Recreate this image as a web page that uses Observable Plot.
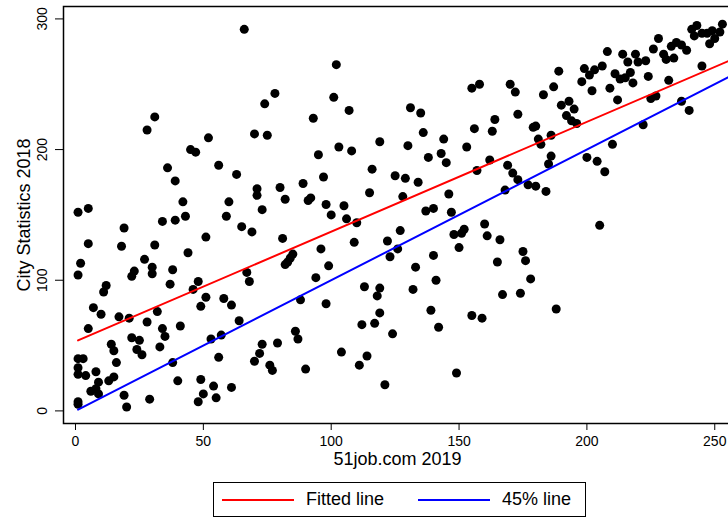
<!DOCTYPE html>
<html>
<head>
<meta charset="utf-8">
<script src="https://cdn.jsdelivr.net/npm/d3@7"></script>
<script src="https://cdn.jsdelivr.net/npm/@observablehq/plot@0.6"></script>
<style>
  html, body { margin: 0; padding: 0; background: #fff; }
  body { font-family: "Liberation Sans", Arial, sans-serif; }
  #wrap { position: relative; width: 728px; height: 519px; overflow: hidden; background: #fff; }
  #chart svg { max-width: none !important; display: block; }
  #legend { position: absolute; left: 213px; top: 482px; width: 373px; height: 35px;
            border: 1px solid #000; box-sizing: border-box; background: #fff; }
  #legend .sw { position: absolute; top: 16px; height: 2px; width: 72px; }
  #legend .lb { position: absolute; top: 5px; font-size: 18px; line-height: 22px; color: #000; white-space: nowrap; }
</style>
</head>
<body>
<div id="wrap">
  <div id="chart"></div>
  <div id="legend"></div>
</div>
<script>
// 51job.com 2019 rank (x) and City Statistics 2018 rank (y)
const job2019 = [
  31,28,52,45,47,56,36,39,42,60,5,1,43,59,
  66,102,78,74,101,107,93,70,75,103,108,119,95,116,125,63,97,89,80,71,71,82,92,91,115,98,105,73,100,
  189,155,158,170,172,187,183,190,131,135,173,164,156,163,136,179,180,144,181,182,186,130,153,143,138,145,186,185,162,169,157,171,173,129,134,177,180,184,168,128,146,137,140,147,
  193,195,192,194,196,208,199,203,206,201,198,202,209,212,214,216,219,220,223,226,228,211,213,215,217,218,224,230,231,234,233,235,237,239,241,243,242,245,247,249,248,250,252,253,245,232,225,227,237,240,222,210,200,204,207,
  34,39,19,5,18,31,51,44,2,1,27,30,30,23,22,38,37,48,46,12,11,51,49,58,61,7,10,17,21,32,28,5,34,35,41,22,25,14,15,24,26,33,16,1,3,1,1,4,8,38,53,57,56,9,13,15,6,8,9,40,49,54,61,50,55,48,19,29,20,1,1,
  106,110,65,69,81,109,122,123,96,85,84,83,82,99,67,68,94,113,119,118,88,98,119,117,112,64,86,87,124,73,79,72,70,76,77,90,104,114,111,121,
  127,126,148,151,152,150,160,161,166,140,133,141,132,165,175,176,178,174,167,188,139,142,155,159,149,
  205
];
const city2018 = [
  225,215,209,200,198,188,186,176,160,160,155,152,149,149,
  292,265,243,235,240,230,224,212,211,202,199,206,196,185,180,181,179,174,171,170,165,162,163,161,167,158,157,154,150,
  260,247,250,250,244,248,242,234,232,228,227,223,216,214,213,217,218,208,208,204,211,203,202,197,194,190,195,189,192,188,184,182,177,178,175,173,172,168,169,164,166,153,155,152,
  237,231,226,222,220,275,262,261,264,257,252,245,247,238,273,267,273,267,268,277,285,258,254,255,259,251,256,273,269,270,279,282,280,276,292,295,287,289,289,291,281,285,290,296,264,253,239,241,237,230,219,204,194,191,183,
  145,146,140,128,126,127,133,121,113,104,116,110,105,107,103,108,97,99,93,96,91,87,80,86,81,79,74,72,71,76,68,63,63,57,65,56,54,51,46,47,43,49,37,40,40,33,28,27,30,37,55,58,41,22,23,26,15,17,13,23,24,19,18,13,10,7,12,9,3,7,5,
  147,144,141,137,132,129,130,118,124,120,117,114,112,111,106,99,102,95,94,88,85,82,75,67,66,69,61,55,59,51,52,44,38,35,31,32,45,42,35,20,
  138,124,135,136,139,125,143,134,131,119,110,100,93,114,122,115,101,90,89,78,77,64,73,71,29,
  142
];
const xTicks = [0, 50, 100, 150, 200, 250];
const yTicks = [0, 100, 200, 300];
const fitIntercept = 53.1;   // red fitted line
const fitSlope = 0.8405;
const xLabel = "51job.com 2019";
const yLabel = "City Statistics 2018";
const legendItems = [
  {label: "Fitted line", color: "#ff0000"},
  {label: "45% line", color: "#0000ff"}
];

const points = job2019.map((x, i) => ({x, y: city2018[i]}));
const xDomain = [-4.69, 256.55];
const yDomain = [-9.64, 309.5];
const x0 = d3.min(job2019), x1 = xDomain[1];
const fitLine = [x0, x1].map(x => ({x, y: fitIntercept + fitSlope * x}));
const diagLine = [x0, x1].map(x => ({x, y: x}));

const chart = Plot.plot({
  width: 731,
  height: 480,
  marginLeft: 63,
  marginRight: 0,
  marginTop: 6,
  marginBottom: 57,
  style: {fontFamily: "'Liberation Sans', Arial, sans-serif", background: "#fff", color: "#000"},
  x: {domain: xDomain},
  y: {domain: yDomain},
  marks: [
    Plot.axisX({ticks: xTicks, tickSize: 7, tickPadding: 6, fontSize: 14, label: null, tickFormat: d => String(d), stroke: "#000"}),
    Plot.axisY({ticks: yTicks, tickSize: 8, fontSize: 14, label: null, tickFormat: () => "", stroke: "#000"}),
    Plot.text(yTicks, {y: d => d, text: d => String(d), frameAnchor: "left", textAnchor: "middle", dx: -20.5, rotate: -90, fontSize: 14, lineAnchor: "middle", fill: "#000"}),
    Plot.text([xLabel], {frameAnchor: "bottom", textAnchor: "middle", dy: 36, fontSize: 18, lineAnchor: "middle", fill: "#000"}),
    Plot.text([yLabel], {frameAnchor: "left", textAnchor: "middle", dx: -39.7, rotate: -90, fontSize: 18, lineAnchor: "middle", fill: "#000"}),
    Plot.dot(points, {x: "x", y: "y", r: 4.5, fill: "#000", stroke: "none"}),
    Plot.line(fitLine, {x: "x", y: "y", stroke: legendItems[0].color, strokeWidth: 2}),
    Plot.line(diagLine, {x: "x", y: "y", stroke: legendItems[1].color, strokeWidth: 2}),
    Plot.frame({stroke: "#000", strokeWidth: 1.5})
  ]
});
document.getElementById("chart").appendChild(chart);

// legend below the plot
const legend = document.getElementById("legend");
const swLeft = [8, 204], lbLeft = [92, 288];
legendItems.forEach((it, i) => {
  const sw = document.createElement("div");
  sw.className = "sw";
  sw.style.left = swLeft[i] + "px";
  sw.style.background = it.color;
  legend.appendChild(sw);
  const lb = document.createElement("div");
  lb.className = "lb";
  lb.style.left = lbLeft[i] + "px";
  lb.textContent = it.label;
  legend.appendChild(lb);
});
</script>
</body>
</html>
